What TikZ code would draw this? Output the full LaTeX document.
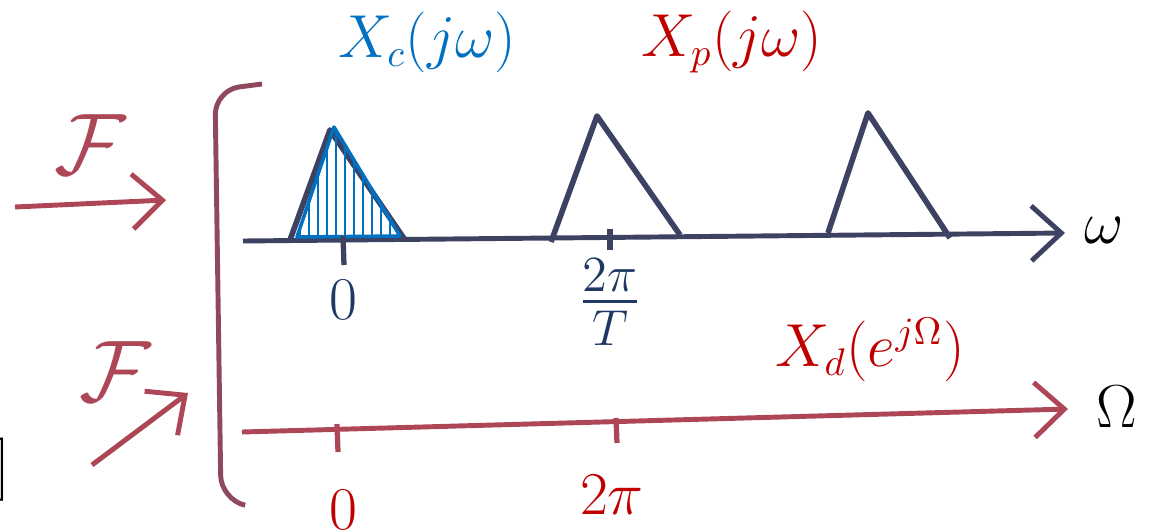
\documentclass[tikz,border=0pt]{standalone}
\usepackage{amsmath,amssymb}
\usetikzlibrary{arrows.meta,positioning}
\definecolor{spblue}{HTML}{0070C0}
\definecolor{spred}{HTML}{C00000}
\definecolor{spnavy}{HTML}{1F3864}
\definecolor{inkgrey}{HTML}{3E4262}
\definecolor{inkred}{HTML}{AD4656}
\definecolor{inkbrk}{HTML}{8E4A5C}
\tikzset{
  axis/.style={line width=1.4pt,-{Straight Barb[length=3mm,width=5.5mm]}},
  tk/.style={line width=1.5pt},
  spec/.style={line width=1.6pt,inkgrey,line join=round},
  hatch/.style={spblue,line width=0.7pt},
  lbl/.style={font=\fontsize{16}{19}\selectfont,inner sep=1pt},
  fsym/.style={inkred,font=\fontsize{32}{34}\selectfont,inner sep=0pt},
  farrow/.style={inkred,line width=1.4pt,-{Straight Barb[length=3mm,width=5.5mm]}},
}
\begin{document}
\begin{tikzpicture}[x=0.1mm,y=-0.1mm]
    \useasboundingbox (0,0) rectangle (1150,530);
    % continuous / sampled spectrum
    \coordinate (w0) at (243,241);
    \coordinate (w1) at (1065,233);
    \draw[axis,inkgrey] (w0) -- (w1);
    \node[lbl,anchor=west] (om) at (1080,230) {$\omega$};
    \draw[spec] (290,240) -- (330,130) -- (405,240);
    \begin{scope}
      \clip (297,237) -- (334,127) -- (400,236) -- cycle;
      \foreach \x in {300,309,...,400}{\draw[hatch] (\x,120) -- (\x,240);}
    \end{scope}
    \draw[spblue,line width=1pt,line join=round] (297,237) -- (334,127) -- (400,236) -- cycle;
    \draw[spec] (551,242) -- (597,116) -- (680,235);
    \draw[spec] (828,233) -- (868,113) -- (950,238);
    \draw[tk,inkgrey] (343,236) -- (344,265);
    \draw[tk,inkgrey] (610,229) -- (610,250);
    \node[lbl,spnavy] (z1) at (343,300) {$0$};
    \node[lbl,spnavy,font=\fontsize{20}{23}\selectfont] (tp) at (610,302) {$\frac{2\pi}{T}$};
    \node[lbl,spblue] (xc) at (427,42) {$X_c(j\omega)$};
    \node[lbl,spred] (xp) at (732,42) {$X_p(j\omega)$};
    % discrete-time spectrum
    \coordinate (W0) at (242,432);
    \coordinate (W1) at (1068,409);
    \draw[axis,inkred] (W0) -- (W1);
    \node[lbl,anchor=west] (Om) at (1092,407) {$\Omega$};
    \draw[tk,inkred] (337,424) -- (338,452);
    \draw[tk,inkred] (616,418) -- (617,443);
    \node[lbl,spred] (z2) at (343,510) {$0$};
    \node[lbl,spred] (tw) at (612,495) {$2\pi$};
    \node[lbl,spred] (xd) at (870,350) {$X_d(e^{j\Omega})$};
    % bracket and transform arrows
    \draw[inkbrk,line width=1.4pt,rounded corners=7pt] (262,84) -- (215,90) -- (221,500) -- (244,505);
    \node[fsym] (f1) at (90,145) {$\mathcal{F}$};
    \coordinate (a1) at (15,207);
    \coordinate (b1) at (166,200);
    \draw[farrow] (a1) -- (b1);
    \node[fsym] (f2) at (115,372) {$\mathcal{F}$};
    \coordinate (a2) at (92,465);
    \coordinate (b2) at (188,393);
    \draw[farrow] (a2) -- (b2);
    \node[font=\fontsize{18}{20}\selectfont,inner sep=0pt,anchor=east] (rb) at (11,470) {]};
\end{tikzpicture}
\end{document}
